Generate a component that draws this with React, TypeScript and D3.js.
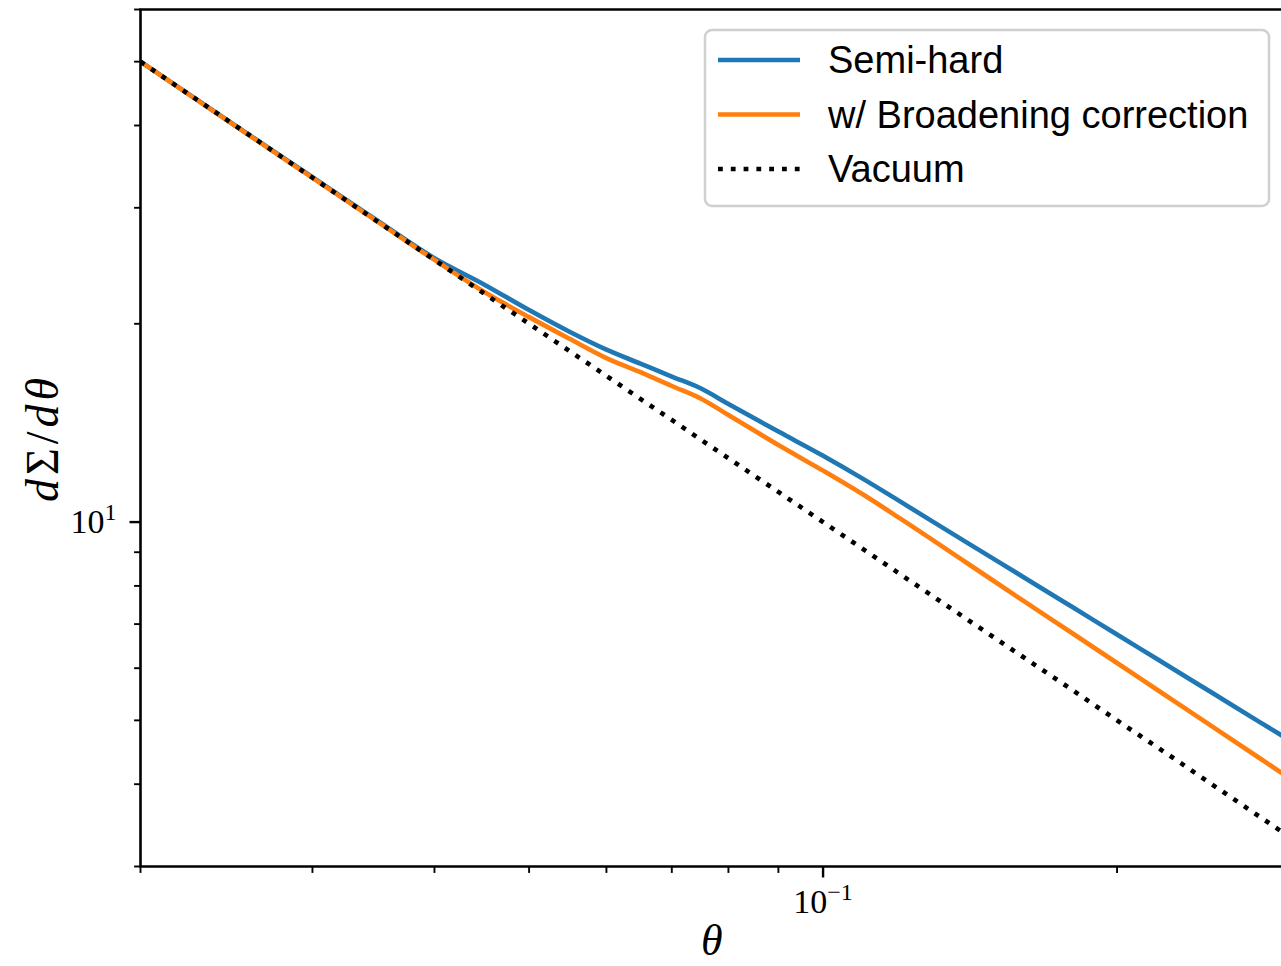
import React from "react";
import * as d3 from "d3";

// θ sample points
const thetaValues = [
  0.02, 0.025, 0.03, 0.035, 0.04, 0.045, 0.05, 0.055, 0.06, 0.065, 0.07, 0.075,
  0.08, 0.09, 0.1, 0.11, 0.12, 0.14, 0.16, 0.18, 0.2, 0.22, 0.25, 0.28, 0.3,
];
// dΣ/dθ, semi-hard
const semiHard = [
  50.0, 40.0, 33.4, 28.65, 25.15, 22.93, 20.98, 19.45, 18.27, 17.4, 16.63, 15.95,
  15.11, 13.72, 12.61, 11.62, 10.74, 9.33, 8.27, 7.43, 6.75, 6.19, 5.51, 4.97, 4.67,
];
// dΣ/dθ, with broadening correction
const broadening = [
  50.0, 39.95, 33.3, 28.55, 25.0, 22.35, 20.47, 18.98, 17.74, 16.89, 16.09, 15.39,
  14.54, 13.09, 11.97, 11.0, 10.12, 8.69, 7.61, 6.78, 6.11, 5.56, 4.9, 4.38, 4.09,
];
// dΣ/dθ, vacuum
const vacuum = [
  50.0, 40.0, 33.33, 28.57, 25.0, 22.22, 20.0, 18.18, 16.67, 15.38, 14.29, 13.33,
  12.5, 11.11, 10.0, 9.09, 8.33, 7.14, 6.25, 5.56, 5.0, 4.55, 4.0, 3.57, 3.33,
];

const xMajorTicks = [0.1];
const xMinorTicks = [0.02, 0.03, 0.04, 0.05, 0.06, 0.07, 0.08, 0.09, 0.2, 0.3];
const yMajorTicks = [10];
const yMinorTicks = [3, 4, 5, 6, 7, 8, 9, 20, 30, 40, 50, 60];

const seriesNames = ["Semi-hard", "w/ Broadening correction", "Vacuum"];
const seriesColors = ["#1f77b4", "#ff7f0e", "#000000"];

const W = 1281;
const H = 966;
const L = 140.5;
const R = 1289;
const T = 9.5;
const B = 866.5;

export default function App() {
  const x = d3.scaleLog().domain([0.02, 0.3]).range([L, R]);
  const y = d3.scaleLog().domain([3, 60]).range([B, T]);

  const line = d3
    .line<[number, number]>()
    .x((d) => x(d[0]))
    .y((d) => y(d[1]))
    .curve(d3.curveMonotoneX);

  const toPts = (vals: number[]) =>
    thetaValues.map((t, i) => [t, vals[i]] as [number, number]);

  const series = [semiHard, broadening, vacuum];
  const serif = "'Liberation Serif', 'DejaVu Serif', serif";
  const sans = "'Liberation Sans', Arial, sans-serif";

  const legendRows = [60, 114.5, 169];

  return (
    <svg
      width={W}
      height={H}
      style={{ position: "absolute", left: 0, top: 0, display: "block", background: "#fff" }}
    >
      <defs>
        <clipPath id="plotclip">
          <rect x={L} y={T} width={R - L} height={B - T} />
        </clipPath>
      </defs>

      {/* data lines */}
      <g clipPath="url(#plotclip)">
        {series.map((s, i) => (
          <path
            key={i}
            d={line(toPts(s)) || ""}
            fill="none"
            stroke={seriesColors[i]}
            strokeWidth={4.6}
            strokeDasharray={i === 2 ? "4.8 8" : undefined}
            strokeLinecap="butt"
          />
        ))}
      </g>

      {/* spines */}
      <line x1={L} x2={L} y1={T} y2={B} stroke="#000" strokeWidth={2.6} />
      <line x1={L - 1.3} x2={R} y1={B} y2={B} stroke="#000" strokeWidth={2.6} />
      <line x1={L - 1.3} x2={R} y1={T} y2={T} stroke="#000" strokeWidth={2.6} />
      <line x1={R} x2={R} y1={T} y2={B} stroke="#000" strokeWidth={2.6} />

      {/* x ticks */}
      {xMajorTicks.map((t) => (
        <line key={"xM" + t} x1={x(t)} x2={x(t)} y1={B} y2={B + 11} stroke="#000" strokeWidth={2.4} />
      ))}
      {xMinorTicks.map((t) => (
        <line key={"xm" + t} x1={x(t)} x2={x(t)} y1={B} y2={B + 6.4} stroke="#000" strokeWidth={1.9} />
      ))}
      {/* y ticks */}
      {yMajorTicks.map((t) => (
        <line key={"yM" + t} x1={L - 11} x2={L} y1={y(t)} y2={y(t)} stroke="#000" strokeWidth={2.4} />
      ))}
      {yMinorTicks.map((t) => (
        <line key={"ym" + t} x1={L - 6.4} x2={L} y1={y(t)} y2={y(t)} stroke="#000" strokeWidth={1.9} />
      ))}

      {/* tick labels */}
      <text x={x(0.1)} y={B + 46} textAnchor="middle" fontFamily={serif} fontSize={34} fill="#000">
        10
        <tspan dy={-13} fontSize={24}>−1</tspan>
      </text>
      <text x={L - 24} y={y(10) + 11} textAnchor="end" fontFamily={serif} fontSize={34} fill="#000">
        10
        <tspan dy={-13} fontSize={24}>1</tspan>
      </text>

      {/* axis labels */}
      <text
        x={(L + R) / 2 - 3}
        y={955}
        textAnchor="middle"
        fontFamily={serif}
        fontStyle="italic"
        fontSize={44}
        fill="#000"
      >
        θ
      </text>
      <text
        transform={`translate(58, ${(T + B) / 2}) rotate(-90)`}
        textAnchor="middle"
        fontFamily={serif}
        fontSize={46}
        letterSpacing={4}
        fill="#000"
      >
        <tspan fontStyle="italic">d</tspan>
        <tspan>Σ/</tspan>
        <tspan fontStyle="italic">dθ</tspan>
      </text>

      {/* legend */}
      <rect
        x={705}
        y={30}
        width={564}
        height={176}
        rx={7}
        ry={7}
        fill="#fff"
        fillOpacity={0.8}
        stroke="#d0d0d0"
        strokeWidth={2.5}
      />
      {seriesNames.map((name, i) => (
        <g key={name}>
          <line
            x1={718}
            x2={800}
            y1={legendRows[i]}
            y2={legendRows[i]}
            stroke={seriesColors[i]}
            strokeWidth={4.6}
            strokeDasharray={i === 2 ? "4.8 8" : undefined}
          />
          <text x={828} y={legendRows[i] + 13} fontFamily={sans} fontSize={38} fill="#000">
            {name}
          </text>
        </g>
      ))}
    </svg>
  );
}
